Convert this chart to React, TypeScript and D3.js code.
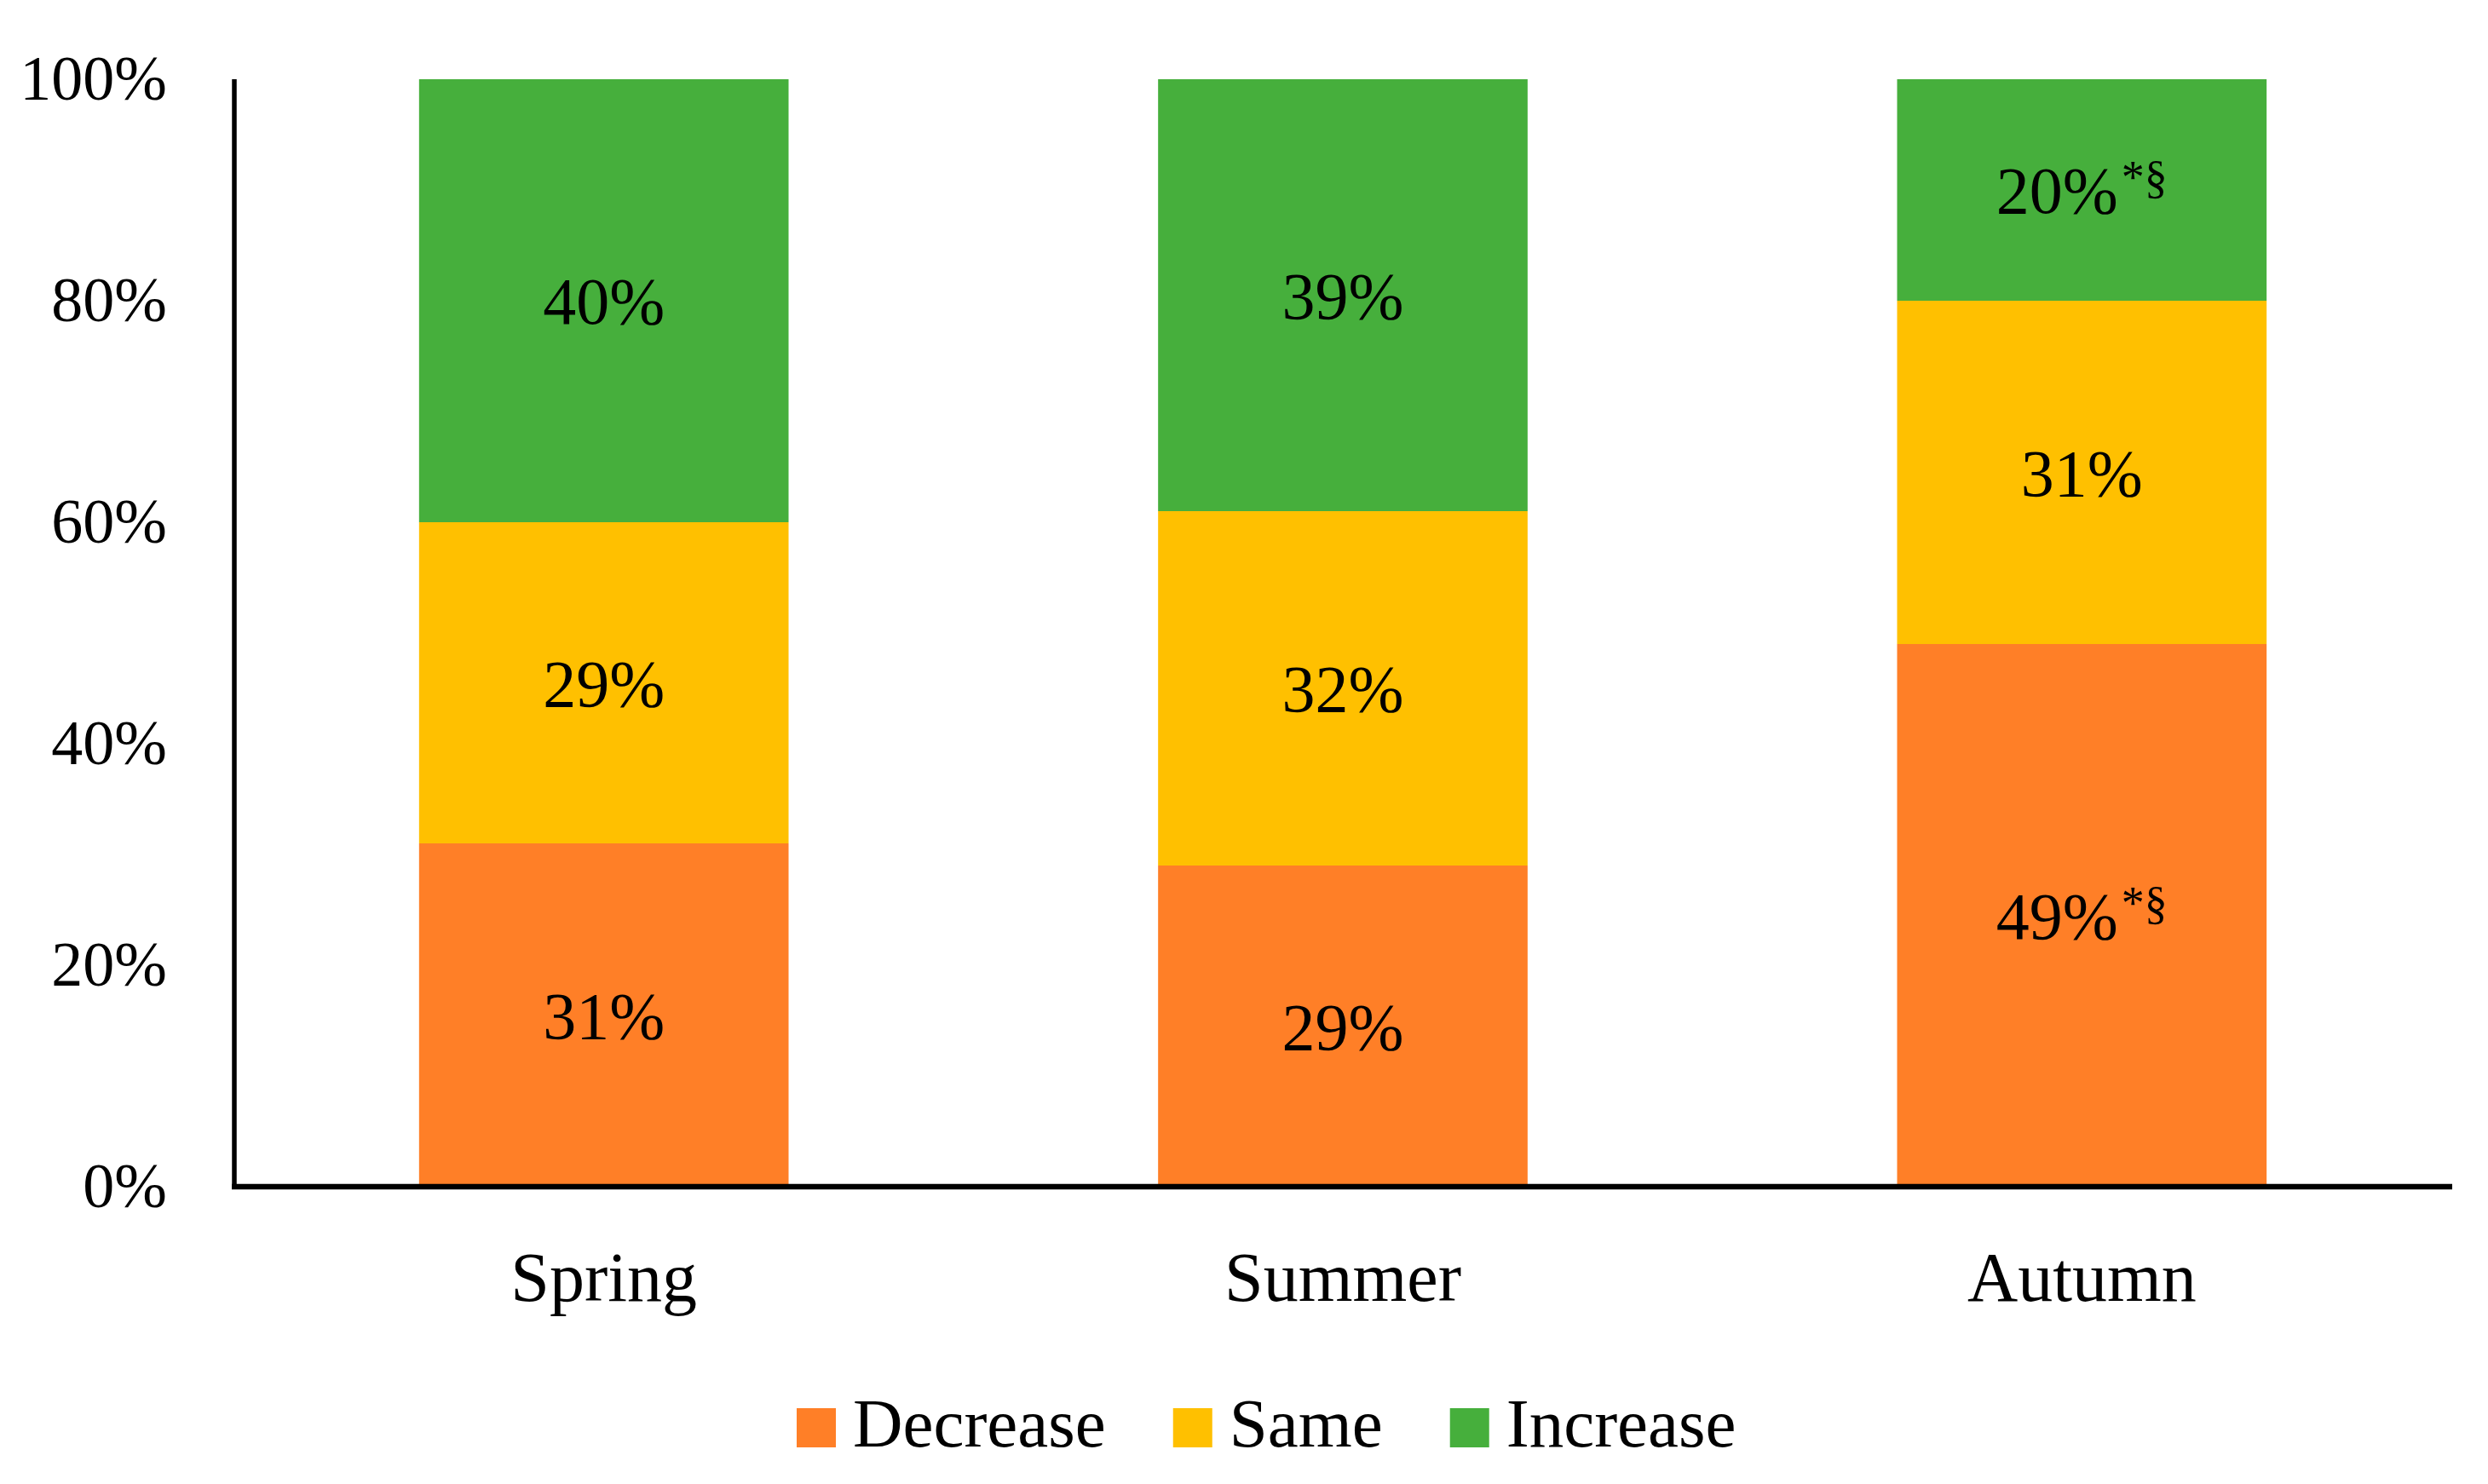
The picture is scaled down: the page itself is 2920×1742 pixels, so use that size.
import { useEffect, useRef } from "react";
import * as d3 from "d3";

const seasons = ["Spring", "Summer", "Autumn"];
const seriesNames = ["Decrease", "Same", "Increase"];
const decrease = [31, 29, 49];
const same = [29, 32, 31];
const increase = [40, 39, 20];
// marks[season][series] -> superscript after the value
const marks: string[][] = [
  ["", "", ""],
  ["", "", ""],
  ["*§", "", "*§"],
];
const yTicks = [0, 20, 40, 60, 80, 100];
const colors = ["#FF7F27", "#FFC000", "#46AF3C"];

const W = 2920;
const H = 1742;
const FONT = "'Liberation Serif', 'Times New Roman', serif";

const App = () => {
  const ref = useRef<SVGSVGElement | null>(null);

  useEffect(() => {
    if (!ref.current) return;
    document.body.style.margin = "0";
    const svg = d3.select(ref.current);
    svg.selectAll("*").remove();

    const rows = seasons.map((s, i) => ({
      season: s,
      Decrease: decrease[i],
      Same: same[i],
      Increase: increase[i],
    }));
    const stacked = d3.stack<any>().keys(seriesNames)(rows);

    const x = d3
      .scaleBand()
      .domain(seasons)
      .range([275, 2877])
      .paddingInner(0.5)
      .paddingOuter(0.25);
    const y = d3.scaleLinear().domain([0, 100]).range([1393, 93]);

    const g = svg.append("g").attr("font-family", FONT);

    // bars
    stacked.forEach((layer, k) => {
      g.append("g")
        .selectAll("rect")
        .data(layer)
        .join("rect")
        .attr("x", (d: any) => x(d.data.season)!)
        .attr("width", x.bandwidth())
        .attr("y", (d) => y(d[1]))
        .attr("height", (d) => y(d[0]) - y(d[1]))
        .attr("fill", colors[k]);
    });

    // value labels
    stacked.forEach((layer, k) => {
      const t = g
        .append("g")
        .selectAll("text")
        .data(layer)
        .join("text")
        .attr("x", (d: any) => x(d.data.season)! + x.bandwidth() / 2)
        .attr("y", (d) => (y(d[0]) + y(d[1])) / 2 + 27)
        .attr("text-anchor", "middle")
        .attr("font-size", 78)
        .attr("fill", "#000");
      t.append("tspan").text((d) => `${d[1] - d[0]}%`);
      t.each(function (_d, i) {
        const m = marks[i][k];
        if (m) {
          d3.select(this)
            .append("tspan")
            .attr("font-size", 54)
            .attr("dx", 4)
            .attr("dy", -24)
            .text(m);
        }
      });
    });

    // axes lines
    g.append("line")
      .attr("x1", 275)
      .attr("x2", 275)
      .attr("y1", y(100))
      .attr("y2", y(0) + 3)
      .attr("stroke", "#000")
      .attr("stroke-width", 5.5);
    g.append("line")
      .attr("x1", 272)
      .attr("x2", 2878)
      .attr("y1", y(0))
      .attr("y2", y(0))
      .attr("stroke", "#000")
      .attr("stroke-width", 6.5);

    // y tick labels
    g.append("g")
      .selectAll("text")
      .data(yTicks)
      .join("text")
      .attr("x", 196)
      .attr("y", (d) => y(d) + 24)
      .attr("text-anchor", "end")
      .attr("font-size", 74)
      .text((d) => `${d}%`);

    // category labels
    g.append("g")
      .selectAll("text")
      .data(seasons)
      .join("text")
      .attr("x", (d) => x(d)! + x.bandwidth() / 2)
      .attr("y", 1527)
      .attr("text-anchor", "middle")
      .attr("font-size", 82)
      .text((d) => d);

    // legend
    const leg = g.append("g");
    let cx = 935;
    seriesNames.forEach((name, k) => {
      leg
        .append("rect")
        .attr("x", cx)
        .attr("y", 1653)
        .attr("width", 46)
        .attr("height", 46)
        .attr("fill", colors[k]);
      const txt = leg
        .append("text")
        .attr("x", cx + 66)
        .attr("y", 1698)
        .attr("font-size", 81)
        .text(name);
      const w = (txt.node() as SVGTextElement).getComputedTextLength();
      cx = cx + 66 + w + 79;
    });
  }, []);

  return <svg ref={ref} width={W} height={H} style={{ display: "block", background: "#fff" }} />;
};

export default App;
